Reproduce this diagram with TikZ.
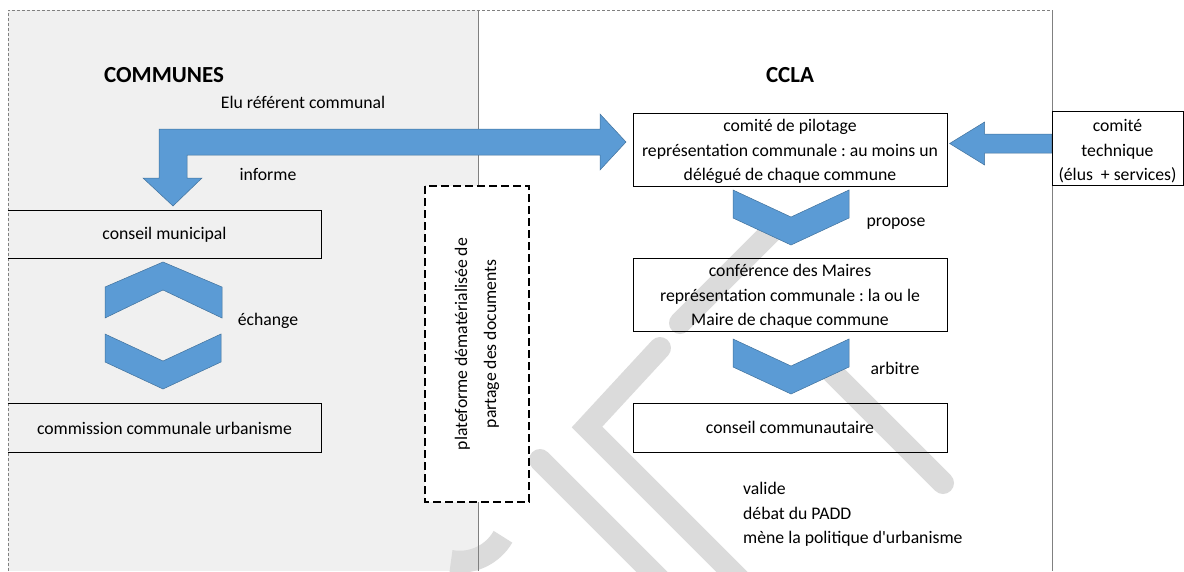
\documentclass[tikz,border=0pt]{standalone}
\usepackage{fontspec}
\setmainfont{Carlito}
\usetikzlibrary{positioning}
\frenchspacing

\begin{document}
\begin{tikzpicture}[x=1pt,y=-1pt,
  font=\fontsize{17.7}{24.5}\selectfont,
  box/.style={draw,line width=0.8pt,align=center,inner sep=0pt,minimum width=314pt,minimum height=73pt},
  threeline/.style={text height=#1,text depth=5pt},
  threeline/.default=67pt,
  openbox/.style={align=center,inner sep=0pt,minimum width=313pt,minimum height=47pt},
  blockarrow/.style={fill={rgb,255:red,91;green,155;blue,213},draw={rgb,255:red,65;green,113;blue,156},line width=0.5pt},
  watermark/.style={draw=gray!28,line width=22pt,line cap=round},
  title/.style={font=\fontsize{23}{26}\selectfont\bfseries},
  chevdown/.pic={\path[blockarrow] (-58,0) -- (0,27) -- (58,0) -- (58,28) -- (0,55) -- (-58,28) -- cycle;},
  chevup/.pic={\path[blockarrow] (-58,25) -- (0,0) -- (59,25) -- (59,56) -- (0,28) -- (-58,56) -- cycle;}]
\useasboundingbox (0,0) rectangle (1184,571);

% panels
\fill[gray!12] (8,10) rectangle (478,571);
\begin{scope}
\clip (0,0) rectangle (1184,571);
\draw[watermark] (775,228) -- (680,323);
\draw[watermark] (660,348) -- (587,427) -- (745,585);
\draw[watermark] (540,460) -- (660,580);
\draw[watermark] (830,370) -- (943,483);
\draw[watermark,line cap=butt] (451,561) arc[start angle=100,end angle=30,radius=50];
\end{scope}
\draw[gray,densely dashed,line width=0.8pt] (8,571) -- (8,10) -- (1052,10);
\draw[gray,line width=0.8pt] (478,10) -- (478,571);
\draw[gray,line width=0.8pt] (1052,10) -- (1052,571);

% titles
\node[title] (communes) at (164,75) {COMMUNES};
\node[title] (ccla) at (790,75) {CCLA};
\node (elu) at (303,102) {Elu référent communal};

% communes side
\node[openbox] (munic) at (164.5,234.5) {conseil municipal};
\draw[line width=0.8pt] (munic.north west) -| (munic.south east) -- (munic.south west);
\node[openbox,minimum height=48pt] (commission) at (164.5,428) {commission communale urbanisme};
\draw[line width=0.8pt] (commission.north west) -| (commission.south east) -- (commission.south west);

\node (informe) at (268,174) {informe};
\node (echange) at (268,321) {échange};
\pic at (163,262) {chevup};
\pic at (163,334) {chevdown};

% plateforme
\node[draw,fill=white,line width=1.8pt,dash pattern=on 8pt off 4pt,rotate=90,
  minimum width=316pt,minimum height=104pt,align=center,
  font=\fontsize{17.7}{29}\selectfont] (plat) at (477,344)
  {plateforme dématérialisée de\\partage des documents};

% CCLA side
\node[box,threeline] (pilot) at (790,149.5) {comité de pilotage\\représentation communale : au moins un\\délégué de chaque commune};
\node[box,threeline] (maires) at (790,294.5) {conférence des Maires\\représentation communale : la ou le\\Maire de chaque commune};
\node[box,minimum height=49pt] (cconseil) at (790,427.5) {conseil communautaire};
\node[box,threeline=69pt,minimum width=131pt] (tech) at (1117.5,148.5) {comité\\technique\\(élus \ + services)};

\pic at (791,190) {chevdown};
\pic at (791,339) {chevdown};
\node (propose) at (896,224) {propose};
\node (arbitre) at (895,368) {arbitre};
\node[anchor=north west,align=left,inner sep=0pt] (roles) at (743,482.5) {valide\\débat du PADD\\mène la politique d\textquotesingle urbanisme};

% arrows
\draw[blockarrow] (159,129) -- (600,129) -- (600,114) -- (626,142) -- (600,170) -- (600,155)
  -- (187,155) -- (187,178) -- (202,178) -- (173,206) -- (143,178) -- (159,178) -- cycle;
\draw[blockarrow] (tech.west) ++(0,-14.5) -- ++(-67,0) -- ++(0,-12) -- ++(-35,21.5)
  -- ++(35,21.5) -- ++(0,-12) -- ++(67,0) -- cycle;

\end{tikzpicture}
\end{document}
